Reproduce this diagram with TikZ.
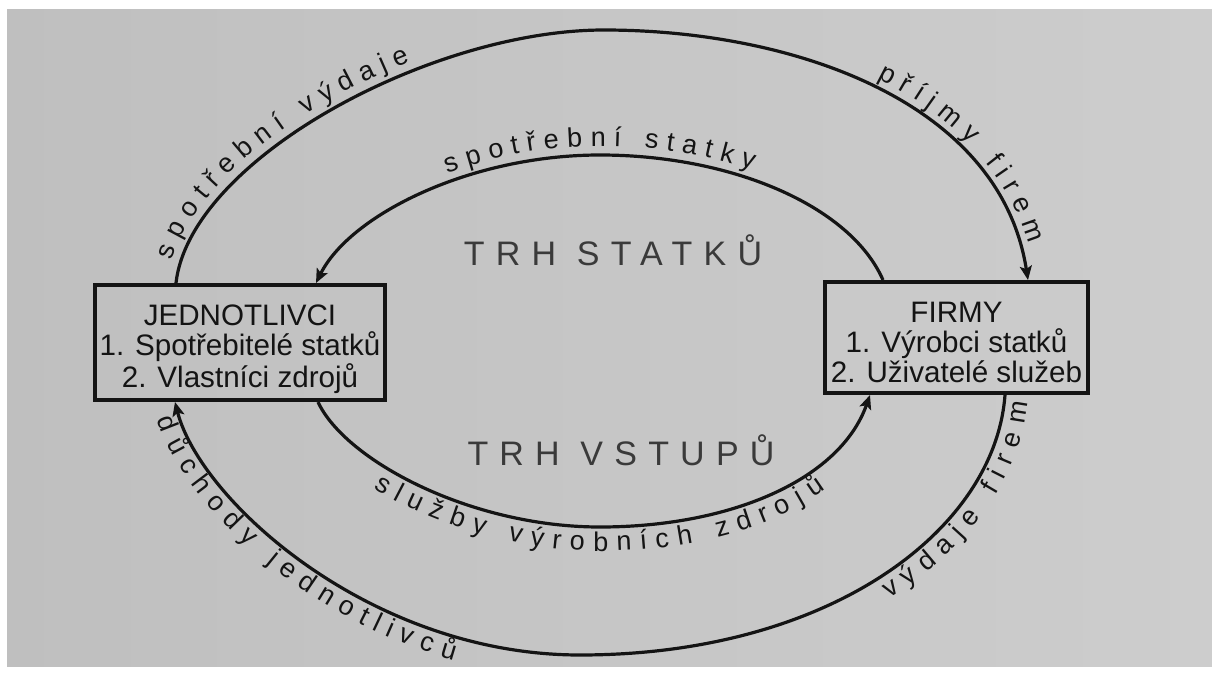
\documentclass[tikz,border=0pt]{standalone}
\usepackage{fontspec}
\setmainfont{Liberation Sans}
\newfontfamily\trackfont[LetterSpace=33]{Liberation Sans}
\usetikzlibrary{arrows.meta,decorations.text}
\definecolor{ink}{HTML}{141414}
\definecolor{softink}{HTML}{3A3A3A}
\definecolor{paperL}{HTML}{BFBFBF}
\definecolor{paperM}{HTML}{D4D4D4}
\definecolor{paperR}{HTML}{CDCDCD}
\newcommand\lblfont{\fontsize{13.5}{15}\selectfont}
\newcommand\boxfont{\fontsize{14.8}{15}\selectfont}
\tikzset{
  box/.style={draw=ink, line width=2pt, inner sep=0pt},
  boxtext/.style={align=center, font=\boxfont, text=ink, inner sep=0pt},
  flow/.style={draw=ink, line width=1.6pt,
    -{Stealth[length=7pt, width=6pt, inset=1.5pt]}},
  arclabel/.style={decorate, decoration={text effects along path,
    text={#1}, text effects/.cd, text along path,
    characters={font=\lblfont, text=ink, anchor=base},
    character widths={font=\lblfont, inner xsep=1.9pt}}},
  market/.style={font=\trackfont\fontsize{17}{19}\selectfont, text=softink}
}
\begin{document}
\begin{tikzpicture}[x=0.5pt, y=-0.5pt]
\useasboundingbox (0,0) rectangle (1212,675);
% paper
\shade[left color=paperL, middle color=paperM, right color=paperR]
  (0,0) rectangle (1212,675);
\fill[white] (0,0) rectangle (1212,9);
\fill[white] (0,0) rectangle (7,675);
\fill[white] (0,667) rectangle (1212,675);

% the two sectors
\node[box, minimum width=145pt, minimum height=57.5pt] (J) at (240,342.5) {};
\node[boxtext] (Jtext) at ([yshift=-3.5pt]J.center)
  {JEDNOTLIVCI\\1. Spotřebitelé statků\\2. Vlastníci zdrojů};
\node[box, minimum width=131.5pt, minimum height=55.5pt] (F) at (956.5,337.5) {};
\node[boxtext] (Ftext) at ([yshift=-2.5pt]F.center)
  {FIRMY\\1. Výrobci statků\\2. Uživatelé služeb};

% attachment points on the boxes
\coordinate (jot) at ([xshift=41.5pt]J.north west);
\coordinate (jit) at ([xshift=111.5pt]J.north west);
\coordinate (jib) at ([xshift=112.5pt]J.south west);
\coordinate (job) at ([xshift=41pt]J.south west);
\coordinate (fot) at ([xshift=102.5pt]F.north west);
\coordinate (fit) at ([xshift=30pt]F.north west);
\coordinate (fib) at ([xshift=23.5pt]F.south west);
\coordinate (fob) at ([xshift=91pt]F.south west);
% apexes of the four loops
\coordinate (ot) at (604,30);
\coordinate (it) at (600,155);
\coordinate (ib) at (600,527);
\coordinate (ob) at (580,655);

% flows
\draw[flow] (jot) .. controls (190,160) and (430,30) .. (ot)
  .. controls (790,30) and (1000,100) .. (fot);
\draw[flow] (fit) .. controls (850,205) and (730,155) .. (it)
  .. controls (470,155) and (350,215) .. (jit);
\draw[flow] (jib) .. controls (345,460) and (470,527) .. (ib)
  .. controls (730,527) and (840,480) .. (fib);
\draw[flow] (fob) .. controls (995,530) and (830,655) .. (ob)
  .. controls (370,655) and (200,500) .. (job);

% labels along the flows
\path[arclabel={spotřební výdaje},
  decoration={raise=4.5pt, pre=moveto, pre length=8pt}]
  (jot) .. controls (190,160) and (430,30) .. (ot);
\path[arclabel={příjmy firem},
  decoration={raise=4.5pt, text align=right, post=moveto, post length=15pt}]
  (ot) .. controls (790,30) and (1000,100) .. (fot);
\path[arclabel={spotřební statky},
  decoration={raise=4.5pt, text align=center}]
  (jit) .. controls (350,215) and (470,155) .. (it)
  .. controls (730,155) and (850,205) .. (fit);
\path[arclabel={služby výrobních zdrojů},
  decoration={raise=-12pt, text align=center}]
  (jib) .. controls (345,460) and (470,527) .. (ib)
  .. controls (730,527) and (840,480) .. (fib);
\path[arclabel={důchody jednotlivců},
  decoration={raise=-11.5pt, pre=moveto, pre length=3pt}]
  (job) .. controls (200,500) and (370,655) .. (ob);
\path[arclabel={výdaje firem},
  decoration={raise=-11.5pt, text align=right}]
  (ob) .. controls (830,655) and (995,530) .. (fob);

% market names
\node[market] (goods) at (613,250) {TRH STATKŮ};
\node[market] (inputs) at (621,450) {TRH VSTUPŮ};
\end{tikzpicture}
\end{document}
